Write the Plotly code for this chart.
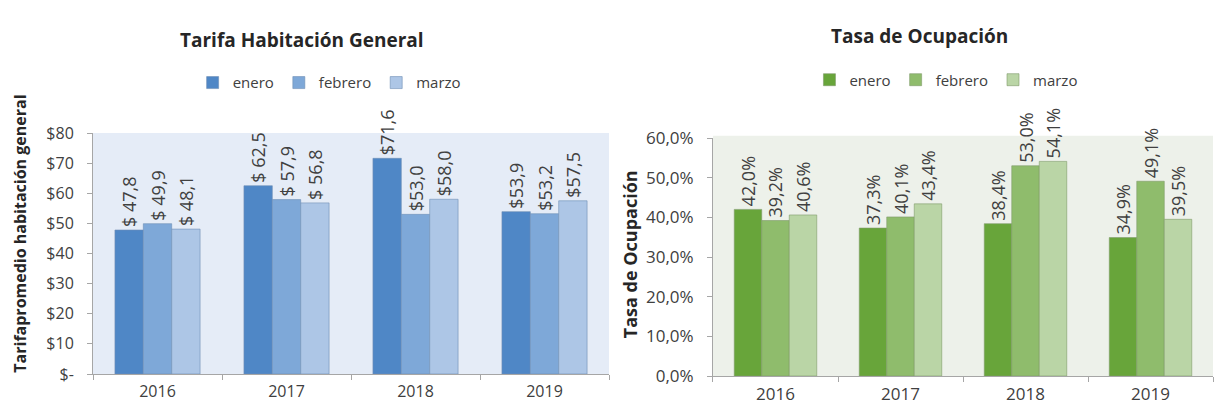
import plotly.graph_objects as go

years = ["2016", "2017", "2018", "2019"]
months = ["enero", "febrero", "marzo"]

# tarifa promedio (USD)
tarifa = {
    "enero": [47.8, 62.5, 71.6, 53.9],
    "febrero": [49.9, 57.9, 53.0, 53.2],
    "marzo": [48.1, 56.8, 58.0, 57.5],
}
tarifa_text = {
    "enero": ["$ 47,8", "$ 62,5", "$71,6", "$53,9"],
    "febrero": ["$ 49,9", "$ 57,9", "$53,0", "$53,2"],
    "marzo": ["$ 48,1", "$ 56,8", "$58,0", "$57,5"],
}

# tasa de ocupacion (%)
ocupacion = {
    "enero": [42.0, 37.3, 38.4, 34.9],
    "febrero": [39.2, 40.1, 53.0, 49.1],
    "marzo": [40.6, 43.4, 54.1, 39.5],
}
ocupacion_text = {
    "enero": ["42,0%", "37,3%", "38,4%", "34,9%"],
    "febrero": ["39,2%", "40,1%", "53,0%", "49,1%"],
    "marzo": ["40,6%", "43,4%", "54,1%", "39,5%"],
}

tarifa_ticks = [0, 10, 20, 30, 40, 50, 60, 70, 80]
tarifa_ticktext = ["$-", "$10", "$20", "$30", "$40", "$50", "$60", "$70", "$80"]
ocup_ticks = [0, 10, 20, 30, 40, 50, 60]
ocup_ticktext = ["0,0%", "10,0%", "20,0%", "30,0%", "40,0%", "50,0%", "60,0%"]

blues = {"enero": "#4f87c6", "febrero": "#7ea8d8", "marzo": "#adc6e6"}
greens = {"enero": "#68a53a", "febrero": "#8fbc6c", "marzo": "#bad5a6"}

FONT = "Open Sans"
TXT = "#404040"

fig = go.Figure()

for m in months:
    fig.add_trace(go.Bar(
        x=years, y=tarifa[m], name=m, text=tarifa_text[m],
        textposition="outside", textangle=-90, cliponaxis=False, constraintext="none",
        textfont=dict(size=18, color=TXT, family=FONT),
        marker=dict(color=blues[m], line=dict(color="#6f8fb5", width=0.6)),
        xaxis="x", yaxis="y", legend="legend",
    ))

for m in months:
    fig.add_trace(go.Bar(
        x=years, y=ocupacion[m], name=m, text=ocupacion_text[m],
        textposition="outside", textangle=-90, cliponaxis=False, constraintext="none",
        textfont=dict(size=18, color=TXT, family=FONT),
        marker=dict(color=greens[m], line=dict(color="#7f9a6a", width=0.6)),
        xaxis="x2", yaxis="y2", legend="legend2",
    ))


def axis_style(size, standoff):
    return dict(
        showline=True, linecolor="#a6a6a6", linewidth=1,
        ticks="outside", tickcolor="#a6a6a6", ticklen=5,
        showgrid=False, zeroline=False, automargin=False,
        ticklabelstandoff=standoff,
        tickfont=dict(size=size, color=TXT, family=FONT),
    )


fig.update_layout(
    width=1219, height=410,
    margin=dict(l=0, r=0, t=0, b=0),
    paper_bgcolor="white", plot_bgcolor="rgba(0,0,0,0)",
    barmode="group", bargap=0.34, bargroupgap=0,
    xaxis=dict(domain=[0.0763, 0.4996], anchor="y", tickson="boundaries", **axis_style(16, 3)),
    yaxis=dict(domain=[0.0878, 0.6756], anchor="x", range=[0, 80],
               tickvals=tarifa_ticks, ticktext=tarifa_ticktext, **axis_style(16, 10)),
    xaxis2=dict(domain=[0.5849, 0.9951], anchor="y2", tickson="boundaries", **axis_style(17, 3)),
    yaxis2=dict(domain=[0.0829, 0.6634], anchor="x2", range=[0, 60],
                tickvals=ocup_ticks, ticktext=ocup_ticktext, **axis_style(17, 10)),
    legend=dict(orientation="h", x=0.27, y=0.798, xanchor="center", yanchor="middle",
                font=dict(size=15, color=TXT, family=FONT), itemwidth=30,
                bgcolor="rgba(0,0,0,0)"),
    legend2=dict(orientation="h", x=0.776, y=0.805, xanchor="center", yanchor="middle",
                 font=dict(size=15, color=TXT, family=FONT), itemwidth=30,
                 bgcolor="rgba(0,0,0,0)"),
    shapes=[
        dict(type="rect", xref="x domain", yref="y domain", x0=0, x1=1, y0=0, y1=1,
             fillcolor="#e5ecf7", line=dict(width=0), layer="below"),
        dict(type="rect", xref="x2 domain", yref="y2 domain", x0=0, x1=1, y0=0, y1=1.01,
             fillcolor="#edf1ea", line=dict(width=0), layer="below"),
    ],
    annotations=[
        dict(text="<b>Tarifa Habitación General</b>", x=0.2478, y=0.902, xref="paper", yref="paper",
             showarrow=False, xanchor="center", yanchor="middle",
             font=dict(size=19, color="#262626", family=FONT)),
        dict(text="<b>Tasa de Ocupación</b>", x=0.7547, y=0.912, xref="paper", yref="paper",
             showarrow=False, xanchor="center", yanchor="middle",
             font=dict(size=19, color="#262626", family=FONT)),
        dict(text="<b>Tarifapromedio habitación general</b>", x=20 / 1219, y=0.43,
             xref="paper", yref="paper", showarrow=False, textangle=-90,
             xanchor="center", yanchor="middle",
             font=dict(size=16, color="#262626", family=FONT)),
        dict(text="<b>Tasa de Ocupación</b>", x=630 / 1219, y=0.38,
             xref="paper", yref="paper", showarrow=False, textangle=-90,
             xanchor="center", yanchor="middle",
             font=dict(size=18, color="#262626", family=FONT)),
    ],
)

fig.write_html("out.html", config={"displayModeBar": False},
               post_script="document.body.style.margin='0';")
